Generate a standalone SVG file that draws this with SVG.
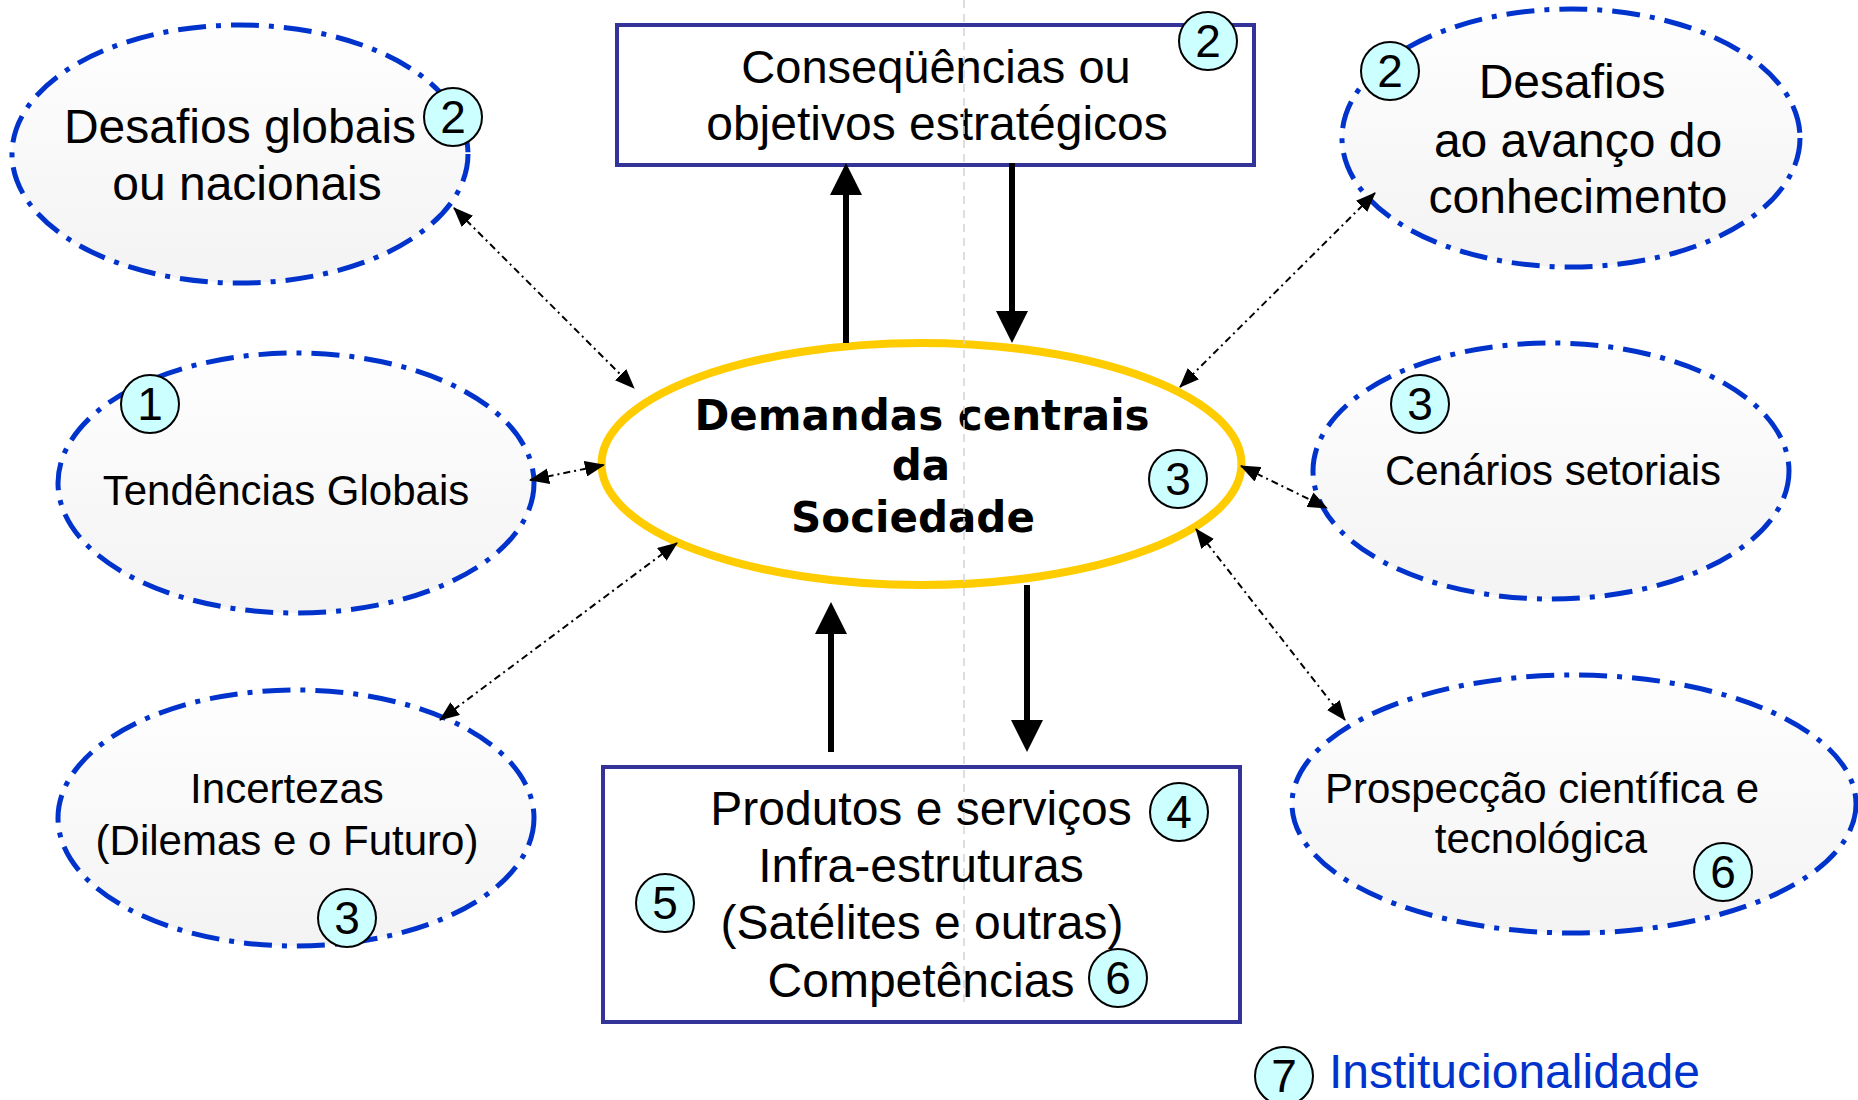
<svg xmlns="http://www.w3.org/2000/svg" width="1858" height="1100" viewBox="0 0 1858 1100">
<style>
.bub{stroke:#0033cc;stroke-width:5;stroke-dasharray:28 10 5 10;fill:url(#g)}
.box{fill:#ffffff;stroke:#333399;stroke-width:4}
.t{font-family:"Liberation Sans",Arial,sans-serif;fill:#000;text-anchor:middle}
.t48{font-size:48px}
.t42{font-size:42px}
.c{font-family:"DejaVu Sans",Verdana,sans-serif;font-weight:bold;font-size:42px;text-anchor:middle;fill:#000}
.bd circle{fill:#ccffff;stroke:#000;stroke-width:2}
.bd text{font-family:"Liberation Sans",Arial,sans-serif;font-size:46px;text-anchor:middle;fill:#000}
.dc{stroke:#000;stroke-width:2;stroke-dasharray:7 4 2 4;fill:none;marker-start:url(#ah);marker-end:url(#ah)}
.th{stroke:#000;stroke-width:6;fill:none}
.hd{fill:#000}
</style>
<defs>
<linearGradient id="g" x1="0" y1="0" x2="0" y2="1">
<stop offset="0" stop-color="#fefefe"/>
<stop offset="1" stop-color="#f3f3f3"/>
</linearGradient>
<marker id="ah" markerUnits="userSpaceOnUse" viewBox="0 0 20 16" refX="19" refY="8" markerWidth="20" markerHeight="16" orient="auto-start-reverse">
<path d="M0,0 L20,8 L0,16 z" fill="#000"/>
</marker>
</defs>
<rect width="1858" height="1100" fill="#ffffff"/>

<g id="desafios-globais">
<ellipse class="bub" cx="240" cy="154" rx="228" ry="129"/>
<text class="t t48" x="240" y="143">Desafios globais</text>
<text class="t t48" x="247" y="200">ou nacionais</text>
<g class="bd"><circle cx="453" cy="117" r="29"/><text x="453" y="133">2</text></g>
</g>

<g id="consequencias">
<rect class="box" x="617" y="25" width="637" height="140"/>
<text class="t" style="font-size:47px" x="936" y="83">Conseqüências ou</text>
<text class="t t48" x="937" y="140">objetivos estratégicos</text>
<g class="bd"><circle cx="1208" cy="41" r="29"/><text x="1208" y="57">2</text></g>
</g>

<g id="desafios-avanco">
<ellipse class="bub" cx="1571" cy="138" rx="229" ry="129"/>
<text class="t t48" x="1572" y="98">Desafios</text>
<text class="t t48" x="1578" y="157">ao avanço do</text>
<text class="t t48" x="1578" y="213">conhecimento</text>
<g class="bd"><circle cx="1390" cy="71" r="29"/><text x="1390" y="87">2</text></g>
</g>

<g id="tendencias">
<ellipse class="bub" cx="296" cy="483" rx="238" ry="130"/>
<text class="t t42" x="286" y="505">Tendências Globais</text>
<g class="bd"><circle cx="150" cy="404" r="29"/><text x="150" y="420">1</text></g>
</g>

<g id="demandas">
<ellipse cx="921.5" cy="464" rx="320" ry="121" fill="#ffffff" stroke="#ffcc00" stroke-width="8"/>
<text class="c" x="922" y="430">Demandas centrais</text>
<text class="c" x="921" y="480">da</text>
<text class="c" x="913" y="532">Sociedade</text>
<g class="bd"><circle cx="1178" cy="479" r="29"/><text x="1178" y="495">3</text></g>
</g>

<g id="cenarios">
<ellipse class="bub" cx="1551" cy="471" rx="238" ry="128"/>
<text class="t t42" x="1553" y="485">Cenários setoriais</text>
<g class="bd"><circle cx="1420" cy="404" r="29"/><text x="1420" y="420">3</text></g>
</g>

<g id="incertezas">
<ellipse class="bub" cx="296" cy="818" rx="238" ry="128"/>
<text class="t t42" x="287" y="803">Incertezas</text>
<text class="t t42" x="287" y="855">(Dilemas e o Futuro)</text>
<g class="bd"><circle cx="347" cy="918" r="29"/><text x="347" y="934">3</text></g>
</g>

<g id="produtos">
<rect class="box" x="603" y="767" width="637" height="255"/>
<text class="t t48" x="921" y="825">Produtos e serviços</text>
<text class="t t48" x="921" y="882">Infra-estruturas</text>
<text class="t t48" x="922" y="939">(Satélites e outras)</text>
<text class="t t48" x="921" y="997">Competências</text>
<g class="bd"><circle cx="1179" cy="812" r="29"/><text x="1179" y="828">4</text></g>
<g class="bd"><circle cx="665" cy="903" r="29"/><text x="665" y="919">5</text></g>
<g class="bd"><circle cx="1118" cy="978" r="29"/><text x="1118" y="994">6</text></g>
</g>

<g id="prospeccao">
<ellipse class="bub" cx="1574" cy="804" rx="282" ry="129"/>
<text class="t t42" x="1542" y="803">Prospecção científica e</text>
<text class="t t42" x="1541" y="853">tecnológica</text>
<g class="bd"><circle cx="1723" cy="872" r="29"/><text x="1723" y="888">6</text></g>
</g>

<g id="institucionalidade">
<g class="bd"><circle cx="1284" cy="1076" r="29"/><text x="1284" y="1092">7</text></g>
<text x="1329" y="1088" style="font-family:'Liberation Sans',Arial,sans-serif;font-size:48px;fill:#0033cc">Institucionalidade</text>
</g>

<g id="connectors">
<line class="dc" x1="454" y1="208" x2="634" y2="388"/>
<line class="dc" x1="530" y1="480" x2="604" y2="465"/>
<line class="dc" x1="440" y1="720" x2="677" y2="543"/>
<line class="dc" x1="1375" y1="193" x2="1180" y2="387"/>
<line class="dc" x1="1241" y1="466" x2="1327" y2="508"/>
<line class="dc" x1="1196" y1="529" x2="1345" y2="720"/>
<line class="th" x1="846" y1="343" x2="846" y2="192"/>
<polygon class="hd" points="846,163 830,195 862,195"/>
<line class="th" x1="1012" y1="163" x2="1012" y2="313"/>
<polygon class="hd" points="996,311 1028,311 1012,343"/>
<line class="th" x1="831" y1="752" x2="831" y2="632"/>
<polygon class="hd" points="831,602 815,634 847,634"/>
<line class="th" x1="1027" y1="585" x2="1027" y2="722"/>
<polygon class="hd" points="1011,720 1043,720 1027,752"/>
</g>

<line x1="964" y1="0" x2="964" y2="1005" stroke="#d4d4d4" stroke-width="1.5" stroke-dasharray="8 6"/>
</svg>
